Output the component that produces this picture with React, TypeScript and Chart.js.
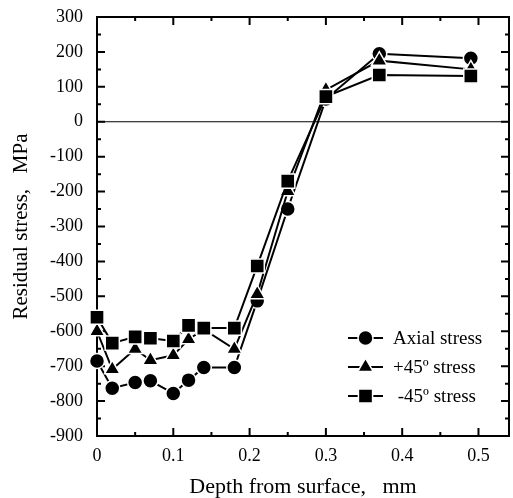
import React, { useEffect, useRef } from "react";
import { Chart, registerables } from "chart.js";

Chart.register(...registerables);

const depth = [0, 0.02, 0.05, 0.07, 0.1, 0.12, 0.14, 0.18, 0.21, 0.25, 0.3, 0.37, 0.49];
const axialStress = [-685, -763, -747, -742, -778, -740, -704, -704, -513, -250, 65, 195, 182];
const plus45Stress = [-600, -709, -651, -683, -669, -623, -595, -651, -494, -199, 91, 175, 150];
const minus45Stress = [-560, -634, -616, -620, -628, -583, -591, -591, -413, -170, 72, 134, 131];

const seriesLabels = ["Axial stress", "+45\u00ba stress", " -45\u00ba stress"];
const seriesMarkers = ["circle", "triangle", "rect"];

const yTickValues = [-900, -800, -700, -600, -500, -400, -300, -200, -100, 0, 100, 200, 300];
const xTickValues = [0, 0.1, 0.2, 0.3, 0.4, 0.5];
const xMin = 0;
const xMax = 0.54;
const yMin = -900;
const yMax = 300;

const xTitle = "Depth from surface,   mm";
const yTitle = "Residual stress,   MPa";

const FONT = "Liberation Serif";
Chart.defaults.font.family = FONT;
Chart.defaults.color = "#000";

function drawMarker(ctx: CanvasRenderingContext2D, style: string, x: number, y: number) {
  ctx.save();
  ctx.fillStyle = "#000";
  ctx.strokeStyle = "#fff";
  ctx.lineWidth = 1.5;
  ctx.beginPath();
  if (style === "circle") {
    ctx.arc(x, y, 7.5, 0, Math.PI * 2);
  } else if (style === "triangle") {
    const r = 9;
    ctx.moveTo(x, y - r);
    ctx.lineTo(x + r * Math.sin((2 * Math.PI) / 3), y - r * Math.cos((2 * Math.PI) / 3));
    ctx.lineTo(x + r * Math.sin((4 * Math.PI) / 3), y - r * Math.cos((4 * Math.PI) / 3));
    ctx.closePath();
  } else {
    const s = 10 * Math.SQRT1_2;
    ctx.rect(x - s, y - s, 2 * s, 2 * s);
  }
  ctx.fill();
  ctx.stroke();
  ctx.restore();
}

const framePlugin = {
  id: "frame",
  beforeDatasetsDraw(chart: any) {
    const { ctx, chartArea: a, scales } = chart;
    const xs = scales.x;
    const ys = scales.y;
    ctx.save();
    ctx.strokeStyle = "#000";
    // zero line
    ctx.lineWidth = 1.2;
    const y0 = ys.getPixelForValue(0);
    ctx.beginPath();
    ctx.moveTo(a.left, y0);
    ctx.lineTo(a.right, y0);
    ctx.stroke();
    // frame
    ctx.lineWidth = 2;
    ctx.strokeRect(a.left, a.top, a.right - a.left, a.bottom - a.top);
    // y ticks (inward, both sides)
    for (let v = yMin; v <= yMax; v += 50) {
      const major = v % 100 === 0;
      const len = major ? 8 : 4;
      const py = ys.getPixelForValue(v);
      ctx.beginPath();
      ctx.moveTo(a.left, py);
      ctx.lineTo(a.left + len, py);
      ctx.moveTo(a.right, py);
      ctx.lineTo(a.right - len, py);
      ctx.stroke();
    }
    // x ticks (inward, both sides)
    for (let i = 0; i * 0.05 <= xMax + 1e-9; i++) {
      const v = i * 0.05;
      const major = i % 2 === 0;
      const len = major ? 8 : 4;
      const px = xs.getPixelForValue(v);
      ctx.beginPath();
      ctx.moveTo(px, a.bottom);
      ctx.lineTo(px, a.bottom - len);
      ctx.moveTo(px, a.top);
      ctx.lineTo(px, a.top + len);
      ctx.stroke();
    }
    ctx.restore();
  },
  afterDraw(chart: any) {
    const { ctx, chartArea: a } = chart;
    const rows = [a.bottom - 98, a.bottom - 69, a.bottom - 40];
    const x1 = a.right - 161;
    const x2 = a.right - 126;
    const tx = a.right - 116;
    ctx.save();
    for (let i = 0; i < seriesLabels.length; i++) {
      const y = rows[i];
      ctx.strokeStyle = "#000";
      ctx.lineWidth = 2;
      ctx.beginPath();
      ctx.moveTo(x1, y);
      ctx.lineTo(x2, y);
      ctx.stroke();
      drawMarker(ctx, seriesMarkers[i], (x1 + x2) / 2, y);
      ctx.fillStyle = "#000";
      ctx.font = `19px ${FONT}`;
      ctx.textAlign = "left";
      ctx.textBaseline = "middle";
      ctx.fillText(seriesLabels[i], tx, y + 1);
    }
    ctx.restore();
  },
};

export default function App() {
  const ref = useRef<HTMLCanvasElement | null>(null);

  useEffect(() => {
    if (!ref.current) return;
    const mk = (data: number[]) => depth.map((d, i) => ({ x: d, y: data[i] }));
    const base = {
      borderColor: "#000",
      backgroundColor: "#000",
      borderWidth: 2,
      pointBackgroundColor: "#000",
      pointBorderColor: "#fff",
      pointBorderWidth: 1.5,
      tension: 0,
      fill: false,
      clip: false,
    };
    const chart = new Chart(ref.current, {
      type: "line",
      data: {
        datasets: [
          { ...base, label: seriesLabels[0], data: mk(axialStress), pointStyle: "circle", pointRadius: 7.5, order: 3 },
          { ...base, label: seriesLabels[1], data: mk(plus45Stress), pointStyle: "triangle", pointRadius: 9, order: 2 },
          { ...base, label: seriesLabels[2], data: mk(minus45Stress), pointStyle: "rect", pointRadius: 10, order: 1 },
        ],
      },
      options: {
        responsive: false,
        animation: false,
        events: [],
        layout: { autoPadding: false, padding: { left: 0, top: 17, right: 4, bottom: 0 } },
        plugins: {
          legend: { display: false },
          tooltip: { enabled: false },
        },
        scales: {
          x: {
            type: "linear",
            min: xMin,
            max: xMax,
            afterBuildTicks: (s: any) => {
              s.ticks = xTickValues.map((v) => ({ value: v }));
            },
            afterFit: (s: any) => {
              s.height = 62;
              s.paddingLeft = 0;
              s.paddingRight = 0;
            },
            grid: { display: false, drawTicks: false },
            border: { display: false },
            ticks: {
              padding: 9,
              color: "#000",
              font: { family: FONT, size: 18 },
              maxRotation: 0,
              autoSkip: false,
              callback: (v: any) => String(Math.round(Number(v) * 10) / 10),
            },
            title: {
              display: true,
              text: xTitle,
              color: "#000",
              font: { family: FONT, size: 22 },
              padding: { top: 0, bottom: -2 },
            },
          },
          y: {
            type: "linear",
            min: yMin,
            max: yMax,
            afterBuildTicks: (s: any) => {
              s.ticks = yTickValues.map((v) => ({ value: v }));
            },
            afterFit: (s: any) => {
              s.width = 97;
              s.paddingTop = 0;
              s.paddingBottom = 0;
            },
            grid: { display: false, drawTicks: false },
            border: { display: false },
            ticks: {
              padding: 14,
              color: "#000",
              font: { family: FONT, size: 18 },
              autoSkip: false,
            },
            title: {
              display: true,
              text: yTitle,
              color: "#000",
              font: { family: FONT, size: 21 },
              padding: { top: 9, bottom: 0 },
            },
          },
        },
      },
      plugins: [framePlugin],
    } as any);
    return () => chart.destroy();
  }, []);

  return (
    <div style={{ position: "absolute", left: 0, top: 0, width: 513, height: 498, background: "#fff" }}>
      <canvas ref={ref} width={513} height={498} />
    </div>
  );
}
